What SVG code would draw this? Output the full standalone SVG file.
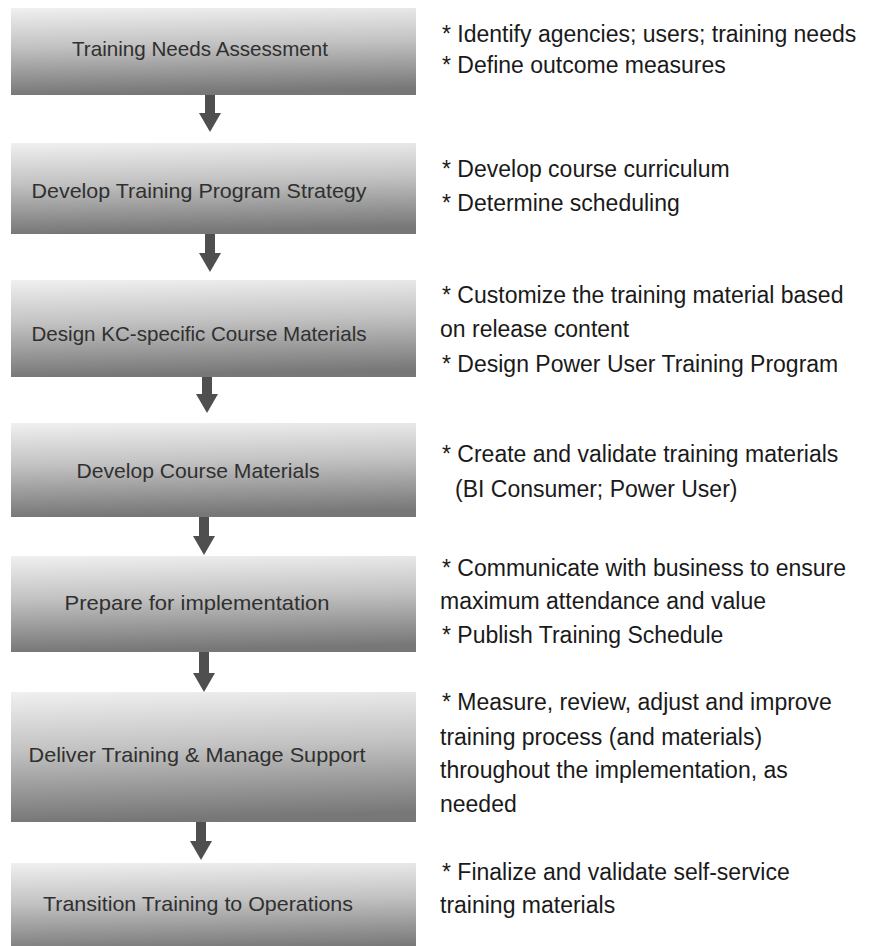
<svg xmlns="http://www.w3.org/2000/svg" width="871" height="946" viewBox="0 0 871 946">
<defs>
<linearGradient id="boxGrad" x1="0" y1="0" x2="0.08" y2="1">
<stop offset="0" stop-color="#f0f0f0"/>
<stop offset="0.45" stop-color="#c2c2c2"/>
<stop offset="1" stop-color="#777777"/>
</linearGradient>
<style>
.box{fill:url(#boxGrad);}
.lbl{font-family:"Liberation Sans",Arial,sans-serif;font-size:21px;fill:#303030;text-anchor:middle;}
.note{font-family:"Liberation Sans",Arial,sans-serif;font-size:23px;fill:#1a1a1a;}
.arrow{stroke:#4f4f4f;stroke-width:10;fill:none;}
.head{fill:#4f4f4f;}
</style>
</defs>
<rect width="871" height="946" fill="#ffffff"/>

<g id="connectors">
<line class="arrow" x1="210" y1="95" x2="210" y2="114"/><path class="head" d="M199,113 L221,113 L210,132 Z"/>
<line class="arrow" x1="210" y1="234" x2="210" y2="254"/><path class="head" d="M199,253 L221,253 L210,272 Z"/>
<line class="arrow" x1="207" y1="377" x2="207" y2="395"/><path class="head" d="M196,394 L218,394 L207,413 Z"/>
<line class="arrow" x1="204" y1="517" x2="204" y2="537"/><path class="head" d="M193,536 L215,536 L204,555 Z"/>
<line class="arrow" x1="204" y1="652" x2="204" y2="674"/><path class="head" d="M193,673 L215,673 L204,692 Z"/>
<line class="arrow" x1="201" y1="822" x2="201" y2="842"/><path class="head" d="M190,841 L212,841 L201,860 Z"/>
</g>

<g id="n1">
<rect class="box" x="11" y="8" width="405" height="87"/>
<text class="lbl" x="200" y="56" textLength="256" lengthAdjust="spacingAndGlyphs">Training Needs Assessment</text>
</g>
<g id="n2">
<rect class="box" x="11" y="143" width="405" height="91"/>
<text class="lbl" x="199" y="198" textLength="335" lengthAdjust="spacingAndGlyphs">Develop Training Program Strategy</text>
</g>
<g id="n3">
<rect class="box" x="11" y="280" width="405" height="97"/>
<text class="lbl" x="199" y="341" textLength="335" lengthAdjust="spacingAndGlyphs">Design KC-specific Course Materials</text>
</g>
<g id="n4">
<rect class="box" x="11" y="423" width="405" height="94"/>
<text class="lbl" x="198" y="478" textLength="243" lengthAdjust="spacingAndGlyphs">Develop Course Materials</text>
</g>
<g id="n5">
<rect class="box" x="11" y="556" width="405" height="96"/>
<text class="lbl" x="197" y="610" textLength="265" lengthAdjust="spacingAndGlyphs">Prepare for implementation</text>
</g>
<g id="n6">
<rect class="box" x="11" y="692" width="405" height="130"/>
<text class="lbl" x="197" y="762" textLength="337" lengthAdjust="spacingAndGlyphs">Deliver Training &amp; Manage Support</text>
</g>
<g id="n7">
<rect class="box" x="11" y="863" width="405" height="90"/>
<text class="lbl" x="198" y="911" textLength="310" lengthAdjust="spacingAndGlyphs">Transition Training to Operations</text>
</g>

<g id="notes">
<text class="note" x="442" y="42">* Identify agencies; users; training needs</text>
<text class="note" x="442" y="73">* Define outcome measures</text>
<text class="note" x="442" y="177">* Develop course curriculum</text>
<text class="note" x="442" y="211">* Determine scheduling</text>
<text class="note" x="442" y="303">* Customize the training material based</text>
<text class="note" x="440" y="337">on release content</text>
<text class="note" x="442" y="372">* Design Power User Training Program</text>
<text class="note" x="442" y="462">* Create and validate training materials</text>
<text class="note" x="455" y="497">(BI Consumer; Power User)</text>
<text class="note" x="442" y="576">* Communicate with business to ensure</text>
<text class="note" x="440" y="609">maximum attendance and value</text>
<text class="note" x="442" y="643">* Publish Training Schedule</text>
<text class="note" x="442" y="710">* Measure, review, adjust and improve</text>
<text class="note" x="440" y="745">training process (and materials)</text>
<text class="note" x="440" y="778">throughout the implementation, as</text>
<text class="note" x="440" y="812">needed</text>
<text class="note" x="442" y="880">* Finalize and validate self-service</text>
<text class="note" x="440" y="913">training materials</text>
</g>
</svg>
